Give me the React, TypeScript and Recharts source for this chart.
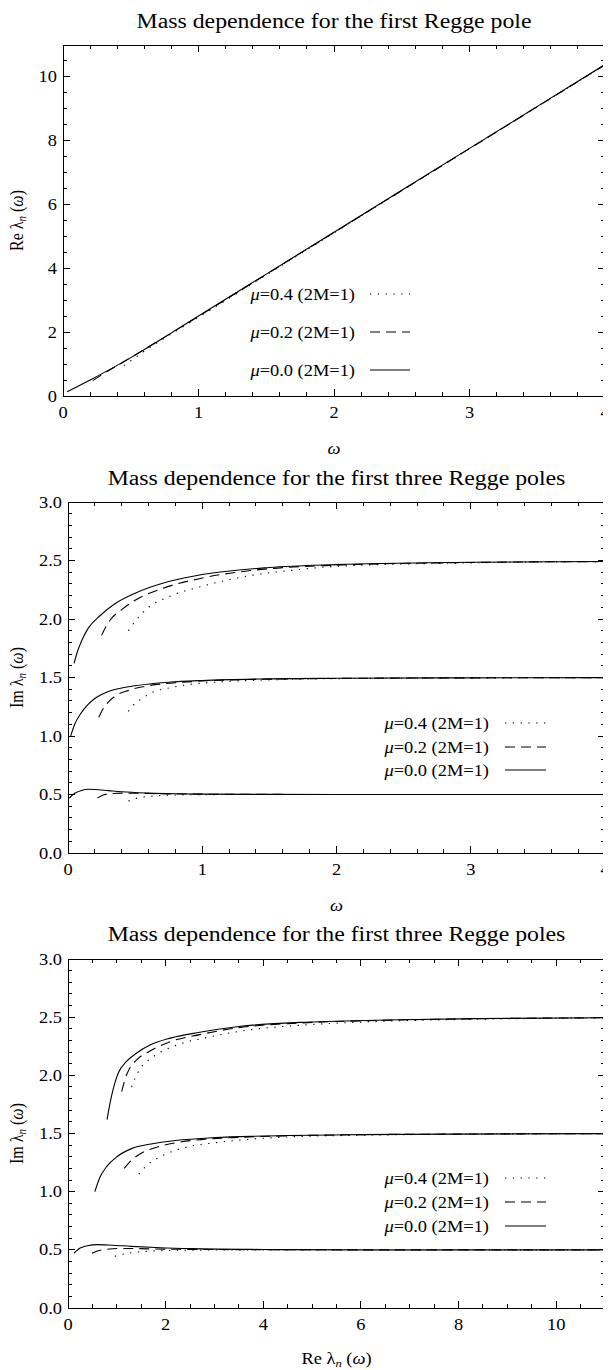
import React from 'react';
import { LineChart, Line, XAxis, YAxis, ReferenceLine } from 'recharts';

// ---------- Panel 1: Re lambda_1 vs omega ----------
const p1Mu00Omega = [0.03, 0.1, 0.2, 0.35, 0.5, 0.75, 1, 1.5, 2, 3, 4];
const p1Mu00Re = [0.13, 0.28, 0.5, 0.84, 1.2, 1.84, 2.5, 3.81, 5.12, 7.74, 10.36];
const p1Mu02Omega = [0.22, 0.3, 0.4, 0.5, 0.75, 1, 1.5, 2, 3, 4];
const p1Mu02Re = [0.48, 0.7, 0.95, 1.2, 1.84, 2.49, 3.8, 5.11, 7.73, 10.35];
const p1Mu04Omega = [0.45, 0.5, 0.6, 0.7, 0.85, 1, 1.5, 2, 3, 4];
const p1Mu04Re = [0.95, 1.1, 1.4, 1.68, 2.07, 2.46, 3.78, 5.1, 7.73, 10.35];

// ---------- Panel 2: Im lambda_n vs omega ----------
const p2N1Mu00Omega = [0.01, 0.05, 0.1, 0.15, 0.2, 0.3, 0.4, 0.6, 0.8, 1, 1.5, 2, 3, 4];
const p2N1Mu00Im = [0.47, 0.51, 0.535, 0.545, 0.543, 0.533, 0.523, 0.512, 0.506, 0.503, 0.501, 0.5, 0.5, 0.5];
const p2N1Mu02Omega = [0.22, 0.25, 0.3, 0.4, 0.5, 0.7, 1, 1.5, 2, 3, 4];
const p2N1Mu02Im = [0.47, 0.49, 0.505, 0.512, 0.511, 0.506, 0.503, 0.501, 0.5, 0.5, 0.5];
const p2N1Mu04Omega = [0.45, 0.5, 0.6, 0.7, 0.85, 1, 1.5, 2, 3, 4];
const p2N1Mu04Im = [0.445, 0.465, 0.483, 0.492, 0.497, 0.499, 0.5, 0.5, 0.5, 0.5];

const p2N2Mu00Omega = [0.02, 0.05, 0.1, 0.15, 0.2, 0.3, 0.4, 0.5, 0.75, 1, 1.5, 2, 3, 4];
const p2N2Mu00Im = [1.0, 1.1, 1.2, 1.27, 1.32, 1.38, 1.41, 1.43, 1.46, 1.475, 1.488, 1.493, 1.497, 1.499];
const p2N2Mu02Omega = [0.23, 0.26, 0.3, 0.35, 0.45, 0.6, 0.8, 1, 1.5, 2, 3, 4];
const p2N2Mu02Im = [1.16, 1.23, 1.29, 1.34, 1.39, 1.43, 1.455, 1.47, 1.486, 1.492, 1.497, 1.499];
const p2N2Mu04Omega = [0.45, 0.5, 0.55, 0.64, 0.75, 0.9, 1.1, 1.5, 2, 3, 4];
const p2N2Mu04Im = [1.21, 1.28, 1.32, 1.38, 1.41, 1.44, 1.46, 1.48, 1.49, 1.496, 1.499];

const p2N3Mu00Omega = [0.045, 0.07, 0.1, 0.15, 0.24, 0.35, 0.5, 0.75, 1, 1.5, 2, 3, 4];
const p2N3Mu00Im = [1.62, 1.72, 1.81, 1.92, 2.03, 2.13, 2.22, 2.32, 2.38, 2.44, 2.465, 2.485, 2.492];
const p2N3Mu02Omega = [0.25, 0.28, 0.32, 0.4, 0.5, 0.7, 1, 1.5, 2, 3, 4];
const p2N3Mu02Im = [1.86, 1.93, 2.0, 2.08, 2.16, 2.26, 2.35, 2.43, 2.46, 2.483, 2.491];
const p2N3Mu04Omega = [0.45, 0.5, 0.6, 0.75, 1, 1.3, 1.7, 2, 3, 4];
const p2N3Mu04Im = [1.9, 1.98, 2.1, 2.19, 2.28, 2.36, 2.42, 2.45, 2.48, 2.49];

// ---------- Panel 3: Im lambda_n vs Re lambda_n ----------
const p3N1Mu00Re = [0.12, 0.25, 0.4, 0.6, 0.9, 1.3, 1.8, 2.5, 4, 6, 8, 11];
const p3N1Mu00Im = [0.47, 0.515, 0.535, 0.545, 0.54, 0.53, 0.52, 0.51, 0.503, 0.5, 0.5, 0.5];
const p3N1Mu02Re = [0.49, 0.6, 0.8, 1.0, 1.3, 1.8, 2.5, 4, 6, 11];
const p3N1Mu02Im = [0.47, 0.49, 0.505, 0.511, 0.511, 0.507, 0.504, 0.501, 0.5, 0.5];
const p3N1Mu04Re = [0.96, 1.1, 1.3, 1.6, 2.0, 2.5, 3.5, 5, 8, 11];
const p3N1Mu04Im = [0.445, 0.46, 0.475, 0.487, 0.494, 0.497, 0.499, 0.5, 0.5, 0.5];

const p3N2Mu00Re = [0.55, 0.65, 0.8, 1.0, 1.3, 1.7, 2.2, 3, 4, 6, 8, 11];
const p3N2Mu00Im = [1.0, 1.12, 1.22, 1.3, 1.37, 1.41, 1.44, 1.465, 1.478, 1.49, 1.495, 1.499];
const p3N2Mu02Re = [1.15, 1.3, 1.5, 1.8, 2.2, 2.8, 3.5, 4.5, 6, 8, 11];
const p3N2Mu02Im = [1.2, 1.27, 1.33, 1.38, 1.42, 1.45, 1.467, 1.48, 1.49, 1.495, 1.499];
const p3N2Mu04Re = [1.45, 1.6, 1.8, 2.1, 2.5, 3, 3.7, 4.5, 6, 8, 11];
const p3N2Mu04Im = [1.15, 1.22, 1.28, 1.34, 1.39, 1.42, 1.45, 1.47, 1.485, 1.494, 1.499];

const p3N3Mu00Re = [0.8, 0.87, 0.95, 1.03, 1.2, 1.4, 1.68, 2.1, 2.7, 3.5, 4.75, 6.5, 8.5, 11];
const p3N3Mu00Im = [1.62, 1.78, 1.92, 2.02, 2.12, 2.19, 2.26, 2.32, 2.37, 2.42, 2.455, 2.475, 2.488, 2.495];
const p3N3Mu02Re = [1.1, 1.17, 1.25, 1.4, 1.68, 2.1, 2.7, 3.5, 4.75, 6.5, 8.5, 11];
const p3N3Mu02Im = [1.86, 1.97, 2.05, 2.13, 2.21, 2.29, 2.35, 2.41, 2.45, 2.473, 2.487, 2.495];
const p3N3Mu04Re = [1.3, 1.38, 1.48, 1.65, 1.9, 2.3, 2.9, 3.7, 4.75, 6.5, 8.5, 11];
const p3N3Mu04Im = [1.9, 1.98, 2.06, 2.13, 2.2, 2.27, 2.33, 2.39, 2.43, 2.465, 2.483, 2.494];

// ---------- ticks & labels ----------
const p1XMajor = [0, 1, 2, 3, 4];
const p1XLabels = ['0', '1', '2', '3', '4'];
const p1YMajor = [0, 2, 4, 6, 8, 10];
const p1YLabels = ['0', '2', '4', '6', '8', '10'];
const p2XMajor = [0, 1, 2, 3, 4];
const p2XLabels = ['0', '1', '2', '3', '4'];
const imYMajor = [0, 0.5, 1, 1.5, 2, 2.5, 3];
const imYLabels = ['0.0', '0.5', '1.0', '1.5', '2.0', '2.5', '3.0'];
const p3XMajor = [0, 2, 4, 6, 8, 10];
const p3XLabels = ['0', '2', '4', '6', '8', '10'];

const titles = [
  'Mass dependence for the first Regge pole',
  'Mass dependence for the first three Regge poles',
  'Mass dependence for the first three Regge poles',
];
const legendMu = ['0.4', '0.2', '0.0'];

const FONT = "'Liberation Serif', 'Times New Roman', Times, serif";
const SX = 1.15;
const TITLE_SX = 1.19;
const INK = '#000';
const DOTTED = '1.3 6.5';
const DASHED = '10 6';
const MAJOR_LEN = 7;
const MINOR_LEN = 4;

type Pt = { x: number; y: number };
const pts = (xs: number[], ys: number[]): Pt[] => xs.map((x, i) => ({ x, y: ys[i] }));
const steps = (lo: number, hi: number, step: number) => {
  const out: number[] = [];
  for (let i = 0; lo + i * step <= hi + 1e-9; i++) out.push(+(lo + i * step).toFixed(4));
  return out;
};
const isIn = (arr: number[], v: number) => arr.some((m) => Math.abs(m - v) < 1e-6);

function labelTick(orient: 'bottom' | 'left', majors: number[], labels: string[]) {
  return (props: any) => {
    const { x, y, payload } = props;
    const mi = majors.findIndex((m) => Math.abs(m - payload.value) < 1e-6);
    if (mi < 0) return <g />;
    if (orient === 'bottom') {
      return (
        <text transform={`translate(${x},${y + 22}) scale(${SX},1)`} textAnchor="middle" fontSize={16} fontFamily={FONT} fill={INK}>
          {labels[mi]}
        </text>
      );
    }
    return (
      <text transform={`translate(${x - 6},${y + 5.5}) scale(${SX},1)`} textAnchor="end" fontSize={16} fontFamily={FONT} fill={INK}>
        {labels[mi]}
      </text>
    );
  };
}

type Series = { data: Pt[]; dash?: string };

type PanelProps = {
  top: number;
  height: number;
  marginTop: number;
  marginBottom: number;
  leftWidth: number;
  xDomain: [number, number];
  yDomain: [number, number];
  xMajor: number[];
  xLabels: string[];
  xMinorStep: number;
  yMajor: number[];
  yLabels: string[];
  yMinorStep: number;
  series: Series[];
  title: string;
  titleBaseline: number;
  xLabel: React.ReactNode;
  xLabelBaseline: number;
  yLabel: React.ReactNode;
  legendRows: number[];
  legendTextEnd: number;
  legendLine: [number, number];
};

const W = 603;
const RIGHT_MARGIN = 6;
const frameLine = { stroke: INK, strokeWidth: 1, shapeRendering: 'crispEdges' };

function Panel(p: PanelProps) {
  const xTicks = steps(p.xDomain[0], p.xDomain[1], p.xMinorStep);
  const yTicks = steps(p.yDomain[0], p.yDomain[1], p.yMinorStep);
  const plotLeft = p.leftWidth;
  const plotRight = W - RIGHT_MARGIN;
  const plotTop = p.marginTop;
  const plotBottom = p.height - p.marginBottom - 60;
  const cx = (plotLeft + plotRight) / 2;
  const cy = (plotTop + plotBottom) / 2;
  const dashes = [DOTTED, DASHED, undefined];

  // tick lengths converted from pixels into data units of each axis
  const [x0, x1] = p.xDomain;
  const [y0, y1] = p.yDomain;
  const xPerPx = (x1 - x0) / (plotRight - plotLeft);
  const yPerPx = (y1 - y0) / (plotBottom - plotTop);
  const xe = x0 + xPerPx * 0.01; // inner edge of the frame (kept non-zero)
  const ye = y0 + yPerPx * 0.01;
  const segs: { key: string; s: [Pt, Pt] }[] = [];
  xTicks.forEach((v) => {
    if (v <= x0 + 1e-9 || v >= x1 - 1e-9) return;
    const l = (isIn(p.xMajor, v) ? MAJOR_LEN : MINOR_LEN) * yPerPx;
    segs.push({ key: `xb${v}`, s: [{ x: v, y: ye + l }, { x: v, y: ye }] });
    segs.push({ key: `xt${v}`, s: [{ x: v, y: y1 - l }, { x: v, y: y1 }] });
  });
  yTicks.forEach((v) => {
    if (v <= y0 + 1e-9 || v >= y1 - 1e-9) return;
    const l = (isIn(p.yMajor, v) ? MAJOR_LEN : MINOR_LEN) * xPerPx;
    segs.push({ key: `yl${v}`, s: [{ x: xe + l, y: v }, { x: xe, y: v }] });
    segs.push({ key: `yr${v}`, s: [{ x: x1 - l, y: v }, { x: x1, y: v }] });
  });

  return (
    <div style={{ position: 'absolute', left: 0, top: p.top, width: W, height: p.height }}>
      <LineChart width={W} height={p.height} margin={{ top: p.marginTop, right: RIGHT_MARGIN, bottom: p.marginBottom, left: 0 }}>
        <XAxis
          xAxisId={0}
          dataKey="x"
          type="number"
          domain={p.xDomain}
          allowDataOverflow
          ticks={p.xMajor}
          interval={0}
          height={60}
          tickSize={0}
          tickMargin={0}
          tickLine={false}
          axisLine={frameLine}
          tick={labelTick('bottom', p.xMajor, p.xLabels)}
        />
        <YAxis
          yAxisId={0}
          type="number"
          domain={p.yDomain}
          allowDataOverflow
          ticks={p.yMajor}
          interval={0}
          width={p.leftWidth}
          tickSize={0}
          tickMargin={0}
          tickLine={false}
          axisLine={frameLine}
          tick={labelTick('left', p.yMajor, p.yLabels)}
        />
        <ReferenceLine x={x1} stroke={INK} strokeWidth={1} ifOverflow="visible" shapeRendering="crispEdges" />
        <ReferenceLine y={y1} stroke={INK} strokeWidth={1} ifOverflow="visible" shapeRendering="crispEdges" />
        {segs.map((g) => (
          <ReferenceLine key={g.key} segment={g.s} stroke={INK} strokeWidth={1} ifOverflow="visible" shapeRendering="crispEdges" />
        ))}
        {p.series.map((s, i) => (
          <Line
            key={i}
            xAxisId={0}
            yAxisId={0}
            data={s.data}
            dataKey="y"
            type="monotone"
            stroke={INK}
            strokeWidth={1.1}
            strokeDasharray={s.dash}
            dot={false}
            activeDot={false}
            isAnimationActive={false}
          />
        ))}
      </LineChart>
      <svg
        width={W}
        height={p.height}
        style={{ position: 'absolute', left: 0, top: 0, overflow: 'visible', pointerEvents: 'none' }}
      >
        <text transform={`translate(${cx},${p.titleBaseline}) scale(${TITLE_SX},1)`} textAnchor="middle" fontSize={20} fontFamily={FONT} fill={INK}>
          {p.title}
        </text>
        <text transform={`translate(${cx},${p.xLabelBaseline}) scale(${SX},1)`} textAnchor="middle" fontSize={16} fontFamily={FONT} fill={INK}>
          {p.xLabel}
        </text>
        <text transform={`translate(15,${cy}) scale(${SX},1) rotate(-90)`} textAnchor="middle" fontSize={16} fontFamily={FONT} fill={INK}>
          {p.yLabel}
        </text>
        {p.legendRows.map((ry, i) => (
          <g key={i}>
            <text transform={`translate(${p.legendTextEnd},${ry + 5.5}) scale(${SX},1)`} textAnchor="end" fontSize={16} fontFamily={FONT} fill={INK}>
              <tspan fontStyle="italic">μ</tspan>={legendMu[i]} (2M=1)
            </text>
            <line x1={p.legendLine[0]} y1={ry} x2={p.legendLine[1]} y2={ry} stroke={INK} strokeWidth={1.1} strokeDasharray={dashes[i]} />
          </g>
        ))}
      </svg>
    </div>
  );
}

const omegaLabel = <tspan fontStyle="italic">ω</tspan>;
const lam = (prefix: string) => (
  <>
    {prefix} λ<tspan fontStyle="italic" fontSize={11} dy={3}>n</tspan>
    <tspan dy={-3}> (</tspan>
    <tspan fontStyle="italic">ω</tspan>)
  </>
);

export default function App() {
  const p1Series: Series[] = [
    { data: pts(p1Mu04Omega, p1Mu04Re), dash: DOTTED },
    { data: pts(p1Mu02Omega, p1Mu02Re), dash: DASHED },
    { data: pts(p1Mu00Omega, p1Mu00Re) },
  ];
  const p2Series: Series[] = [
    { data: pts(p2N1Mu04Omega, p2N1Mu04Im), dash: DOTTED },
    { data: pts(p2N1Mu02Omega, p2N1Mu02Im), dash: DASHED },
    { data: pts(p2N1Mu00Omega, p2N1Mu00Im) },
    { data: pts(p2N2Mu04Omega, p2N2Mu04Im), dash: DOTTED },
    { data: pts(p2N2Mu02Omega, p2N2Mu02Im), dash: DASHED },
    { data: pts(p2N2Mu00Omega, p2N2Mu00Im) },
    { data: pts(p2N3Mu04Omega, p2N3Mu04Im), dash: DOTTED },
    { data: pts(p2N3Mu02Omega, p2N3Mu02Im), dash: DASHED },
    { data: pts(p2N3Mu00Omega, p2N3Mu00Im) },
  ];
  const p3Series: Series[] = [
    { data: pts(p3N1Mu04Re, p3N1Mu04Im), dash: DOTTED },
    { data: pts(p3N1Mu02Re, p3N1Mu02Im), dash: DASHED },
    { data: pts(p3N1Mu00Re, p3N1Mu00Im) },
    { data: pts(p3N2Mu04Re, p3N2Mu04Im), dash: DOTTED },
    { data: pts(p3N2Mu02Re, p3N2Mu02Im), dash: DASHED },
    { data: pts(p3N2Mu00Re, p3N2Mu00Im) },
    { data: pts(p3N3Mu04Re, p3N3Mu04Im), dash: DOTTED },
    { data: pts(p3N3Mu02Re, p3N3Mu02Im), dash: DASHED },
    { data: pts(p3N3Mu00Re, p3N3Mu00Im) },
  ];
  return (
    <div style={{ position: 'relative', width: W, height: 1362, background: '#fff' }}>
      <Panel
        top={0}
        height={460}
        marginTop={37}
        marginBottom={12}
        leftWidth={55}
        xDomain={[0, 4]}
        yDomain={[0, 10.97]}
        xMajor={p1XMajor}
        xLabels={p1XLabels}
        xMinorStep={0.2}
        yMajor={p1YMajor}
        yLabels={p1YLabels}
        yMinorStep={0.5}
        series={p1Series}
        title={titles[0]}
        titleBaseline={20}
        xLabel={omegaLabel}
        xLabelBaseline={446}
        yLabel={lam('Re')}
        legendRows={[286, 324, 362]}
        legendTextEnd={347}
        legendLine={[362, 402]}
      />
      <Panel
        top={440}
        height={475}
        marginTop={54}
        marginBottom={10}
        leftWidth={60}
        xDomain={[0, 4]}
        yDomain={[0, 3]}
        xMajor={p2XMajor}
        xLabels={p2XLabels}
        xMinorStep={0.2}
        yMajor={imYMajor}
        yLabels={imYLabels}
        yMinorStep={0.1}
        series={p2Series}
        title={titles[1]}
        titleBaseline={37}
        xLabel={omegaLabel}
        xLabelBaseline={463}
        yLabel={lam('Im')}
        legendRows={[275, 299, 322]}
        legendTextEnd={481}
        legendLine={[497, 538]}
      />
      <Panel
        top={900}
        height={460}
        marginTop={51}
        marginBottom={0}
        leftWidth={60}
        xDomain={[0, 11]}
        yDomain={[0, 3]}
        xMajor={p3XMajor}
        xLabels={p3XLabels}
        xMinorStep={0.5}
        yMajor={imYMajor}
        yLabels={imYLabels}
        yMinorStep={0.1}
        series={p3Series}
        title={titles[2]}
        titleBaseline={33}
        xLabel={lam('Re')}
        xLabelBaseline={456}
        yLabel={lam('Im')}
        legendRows={[270, 294, 318]}
        legendTextEnd={481}
        legendLine={[497, 538]}
      />
    </div>
  );
}
